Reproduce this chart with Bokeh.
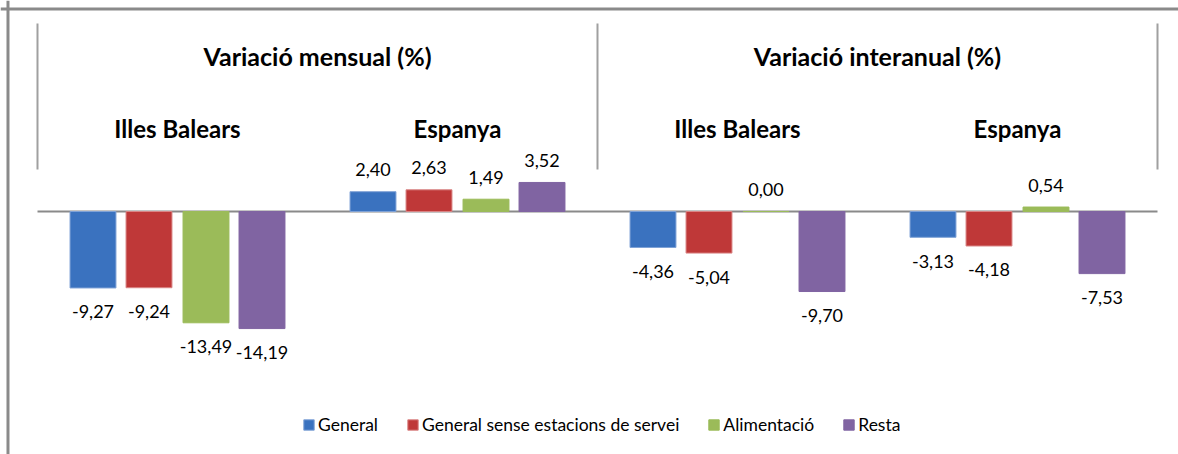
from bokeh.plotting import figure
from bokeh.models import Range1d, Legend, LegendItem, Span
from bokeh.core.properties import value
from bokeh.embed import file_html
from bokeh.resources import INLINE

# ---- data ----
series = ["General", "General sense estacions de servei", "Alimentació", "Resta"]
regions = ["Illes Balears", "Espanya", "Illes Balears", "Espanya"]
panels = ["Variació mensual (%)", "Variació interanual (%)"]
general = [-9.27, 2.40, -4.36, -3.13]
general_sense = [-9.24, 2.63, -5.04, -4.18]
alimentacio = [-13.49, 1.49, 0.00, 0.54]
resta = [-14.19, 3.52, -9.70, -7.53]
colors = ["#3a72bf", "#bf3838", "#9bbb59", "#8064a2"]
line_colors = ["#7fa2d6", "#d98585", "#9bbb59", "#8064a2"]

FONT = "Lato"
W, H = 1178, 454
X0, X1 = -0.13214, 4.075
Y0, Y1 = -29.4545, 25.576
p = figure(width=W, height=H, output_backend="svg", toolbar_location=None,
           min_border=0, x_range=Range1d(X0, X1), y_range=Range1d(Y0, Y1))
p.axis.visible = False
p.grid.visible = False
p.outline_line_color = None
p.background_fill_color = "white"

# outer border (left / top)
p.add_layout(Span(location=-0.1054, dimension="height", line_color="#8a8a8a", line_width=3))
p.add_layout(Span(location=24.545, dimension="width", line_color="#8a8a8a", line_width=3))

n_groups = len(regions)
offsets = [-0.3018, -0.1018, 0.1018, 0.3018]
bar_w = 0.164
all_vals = [general, general_sense, alimentacio, resta]

# dividers
p.segment(x0=[0, 2, 4], x1=[0, 2, 4], y0=[5.1, 5.1, 5.1], y1=[22.8, 22.8, 22.8],
          line_color="#a0a0a0", line_width=2)
# zero line
p.segment(x0=[0], x1=[n_groups], y0=[0], y1=[0], line_color="#8a8a8a", line_width=2)

items = []
for s, vals in enumerate(all_vals):
    xs = [g + 0.5 + offsets[s] for g in range(n_groups)]
    r = p.vbar(x=xs, top=vals, bottom=0, width=bar_w, fill_color=colors[s],
               line_color=line_colors[s], line_width=1)
    items.append(LegendItem(label=series[s], renderers=[r]))
    pos = [(x, v) for x, v in zip(xs, vals) if v >= 0]
    neg = [(x, v) for x, v in zip(xs, vals) if v < 0]
    for grp, off in ((pos, -22), (neg, 24)):
        if grp:
            p.text(x=[a for a, _ in grp], y=[b for _, b in grp],
                   text=[f"{b:.2f}".replace(".", ",") for _, b in grp],
                   y_offset=off, text_align="center", text_baseline="middle",
                   text_font=value(FONT), text_font_size="18px", text_color="#000000")

# panel titles
p.text(x=[1, 3], y=[18.9, 18.9], text=panels, text_align="center", text_baseline="middle",
       text_font=value(FONT), text_font_size="25px", text_font_style="bold", text_color="#000000")
# region titles
p.text(x=[g + 0.5 for g in range(n_groups)], y=[10.06] * n_groups, text=regions,
       text_align="center", text_baseline="middle",
       text_font=value(FONT), text_font_size="24px", text_font_style="bold", text_color="#000000")

legend = Legend(items=items, orientation="horizontal", location=(302, 19),
                glyph_width=13, glyph_height=13, label_standoff=3, spacing=28,
                padding=0, margin=0, border_line_color=None, background_fill_alpha=0,
                label_text_font=FONT, label_text_font_size="17.5px", label_text_color="#000000")
p.add_layout(legend)

open("out.html", "w").write(file_html(p, INLINE))
